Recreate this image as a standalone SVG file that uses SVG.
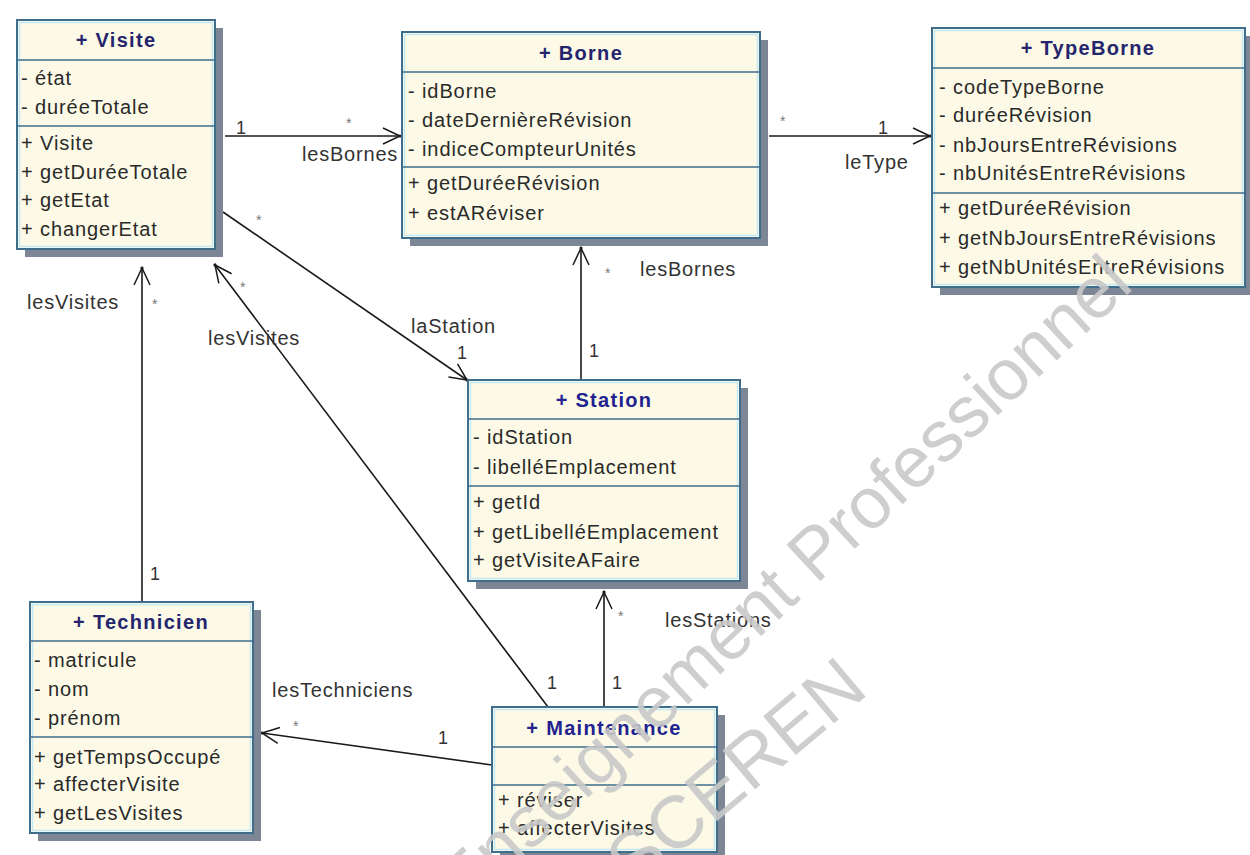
<svg xmlns="http://www.w3.org/2000/svg" width="1250" height="855" viewBox="0 0 1250 855">
<defs>
<style>
.shadow{fill:#7c8694}
.box{fill:#fcfae6;stroke:#3f6d8c;stroke-width:2}
.inner{fill:none;stroke:#c4e8f6;stroke-width:1.5}
.div{stroke:#3f6d8c;stroke-width:1.6}
.title{font-family:"Liberation Sans",Arial,sans-serif;font-size:20px;font-weight:bold;fill:#25256e;text-anchor:middle;letter-spacing:1.3px}
.title2{fill:#222290}
.item{font-family:"Liberation Sans",Arial,sans-serif;font-size:20px;fill:#2a2a2a;letter-spacing:0.9px}
.lbl{font-family:"Liberation Sans",Arial,sans-serif;font-size:20px;fill:#333;letter-spacing:0.8px}
.mult{font-family:"Liberation Sans",Arial,sans-serif;font-size:18px;fill:#333}
.star{font-family:"Liberation Sans",Arial,sans-serif;font-size:14px;fill:#777}
.conn{stroke:#1a1a1a;stroke-width:1.6;fill:none;marker-end:url(#open)}
.wm{font-family:"Liberation Sans",Arial,sans-serif;fill:#c9c9c9;opacity:0.9}
</style>
<marker id="open" viewBox="-20 -10 22 20" refX="0" refY="0" markerWidth="22" markerHeight="20" markerUnits="userSpaceOnUse" orient="auto">
<path d="M-17,-8 L0,0 L-17,8" fill="none" stroke="#1a1a1a" stroke-width="1.5"/>
<circle cx="0" cy="0" r="1.6" fill="#1a1a1a"/>
</marker>
</defs>
<rect width="1250" height="855" fill="#ffffff"/>

<g id="connectors">
<line class="conn" x1="225" y1="136" x2="400" y2="136"/>
<line class="conn" x1="769" y1="136" x2="930" y2="136"/>
<line class="conn" x1="223" y1="212" x2="467" y2="380"/>
<line class="conn" x1="581" y1="380" x2="581" y2="248"/>
<line class="conn" x1="142" y1="602" x2="142" y2="268"/>
<line class="conn" x1="548" y1="707" x2="215" y2="265"/>
<line class="conn" x1="604" y1="707" x2="604" y2="592"/>
<line class="conn" x1="492" y1="765" x2="262" y2="733"/>
<text class="mult" x="236" y="134">1</text>
<text class="star" x="346" y="128">*</text>
<text class="lbl" x="302" y="161">lesBornes</text>
<text class="star" x="780" y="126">*</text>
<text class="mult" x="878" y="134">1</text>
<text class="lbl" x="845" y="169">leType</text>
<text class="star" x="256" y="225">*</text>
<text class="mult" x="457" y="359">1</text>
<text class="lbl" x="411" y="333">laStation</text>
<text class="star" x="605" y="278">*</text>
<text class="lbl" x="640" y="276">lesBornes</text>
<text class="mult" x="589" y="357">1</text>
<text class="star" x="152" y="309">*</text>
<text class="mult" x="150" y="580">1</text>
<text class="lbl" x="27" y="309">lesVisites</text>
<text class="star" x="240" y="292">*</text>
<text class="mult" x="547" y="689">1</text>
<text class="lbl" x="208" y="345">lesVisites</text>
<text class="star" x="618" y="621">*</text>
<text class="lbl" x="665" y="627">lesStations</text>
<text class="mult" x="612" y="689">1</text>
<text class="star" x="293" y="731">*</text>
<text class="mult" x="438" y="744">1</text>
<text class="lbl" x="272" y="697">lesTechniciens</text>
</g>

<g id="visite">
<rect class="shadow" x="25" y="28" width="198" height="229"/>
<rect class="box" x="17" y="20" width="198" height="229"/>
<rect class="inner" x="19.5" y="22.5" width="193" height="224"/>
<line class="div" x1="17" y1="60" x2="215" y2="60"/>
<line class="div" x1="17" y1="126" x2="215" y2="126"/>
<text class="title" x="116" y="47">+ Visite</text>
<text class="item" x="21" y="85">- état</text>
<text class="item" x="21" y="114">- duréeTotale</text>
<text class="item" x="21" y="150">+ Visite</text>
<text class="item" x="21" y="179">+ getDuréeTotale</text>
<text class="item" x="21" y="207">+ getEtat</text>
<text class="item" x="21" y="236">+ changerEtat</text>
</g>

<g id="borne">
<rect class="shadow" x="410" y="40" width="358" height="206"/>
<rect class="box" x="402" y="32" width="358" height="206"/>
<rect class="inner" x="404.5" y="34.5" width="353" height="201"/>
<line class="div" x1="402" y1="72" x2="760" y2="72"/>
<line class="div" x1="402" y1="167" x2="760" y2="167"/>
<text class="title" x="581" y="60">+ Borne</text>
<text class="item" x="408" y="98">- idBorne</text>
<text class="item" x="408" y="127">- dateDernièreRévision</text>
<text class="item" x="408" y="156">- indiceCompteurUnités</text>
<text class="item" x="408" y="190">+ getDuréeRévision</text>
<text class="item" x="408" y="220">+ estARéviser</text>
</g>

<g id="typeborne">
<rect class="shadow" x="940" y="36" width="313" height="259"/>
<rect class="box" x="932" y="28" width="313" height="259"/>
<rect class="inner" x="934.5" y="30.5" width="308" height="254"/>
<line class="div" x1="932" y1="68" x2="1245" y2="68"/>
<line class="div" x1="932" y1="193" x2="1245" y2="193"/>
<text class="title" x="1088" y="55">+ TypeBorne</text>
<text class="item" x="939" y="94">- codeTypeBorne</text>
<text class="item" x="939" y="122">- duréeRévision</text>
<text class="item" x="939" y="152">- nbJoursEntreRévisions</text>
<text class="item" x="939" y="180">- nbUnitésEntreRévisions</text>
<text class="item" x="939" y="215">+ getDuréeRévision</text>
<text class="item" x="939" y="245">+ getNbJoursEntreRévisions</text>
<text class="item" x="939" y="274">+ getNbUnitésEntreRévisions</text>
</g>

<g id="station">
<rect class="shadow" x="476" y="388" width="272" height="201"/>
<rect class="box" x="468" y="380" width="272" height="201"/>
<rect class="inner" x="470.5" y="382.5" width="267" height="196"/>
<line class="div" x1="468" y1="419" x2="740" y2="419"/>
<line class="div" x1="468" y1="486" x2="740" y2="486"/>
<text class="title title2" x="604" y="407">+ Station</text>
<text class="item" x="473" y="444">- idStation</text>
<text class="item" x="473" y="474">- libelléEmplacement</text>
<text class="item" x="473" y="509">+ getId</text>
<text class="item" x="473" y="539">+ getLibelléEmplacement</text>
<text class="item" x="473" y="567">+ getVisiteAFaire</text>
</g>

<g id="technicien">
<rect class="shadow" x="38" y="610" width="223" height="231"/>
<rect class="box" x="30" y="602" width="223" height="231"/>
<rect class="inner" x="32.5" y="604.5" width="218" height="226"/>
<line class="div" x1="30" y1="641" x2="253" y2="641"/>
<line class="div" x1="30" y1="737" x2="253" y2="737"/>
<text class="title" x="141" y="629">+ Technicien</text>
<text class="item" x="34" y="667">- matricule</text>
<text class="item" x="34" y="696">- nom</text>
<text class="item" x="34" y="725">- prénom</text>
<text class="item" x="34" y="764">+ getTempsOccupé</text>
<text class="item" x="34" y="791">+ affecterVisite</text>
<text class="item" x="34" y="820">+ getLesVisites</text>
</g>

<g id="maintenance">
<rect class="shadow" x="500" y="715" width="225" height="145"/>
<rect class="box" x="492" y="707" width="225" height="145"/>
<rect class="inner" x="494.5" y="709.5" width="220" height="140"/>
<line class="div" x1="492" y1="747" x2="717" y2="747"/>
<line class="div" x1="492" y1="785" x2="717" y2="785"/>
<text class="title title2" x="604" y="735">+ Maintenance</text>
<text class="item" x="498" y="807">+ réviser</text>
<text class="item" x="498" y="835">+ affecterVisites</text>
</g>

<g id="watermark">
<text class="wm" font-size="72" text-anchor="middle" transform="translate(800,600) rotate(-43)">Enseignement Professionnel</text>
<text class="wm" font-size="74" text-anchor="middle" transform="translate(752,792) rotate(-40)">SCEREN</text>
</g>
</svg>
